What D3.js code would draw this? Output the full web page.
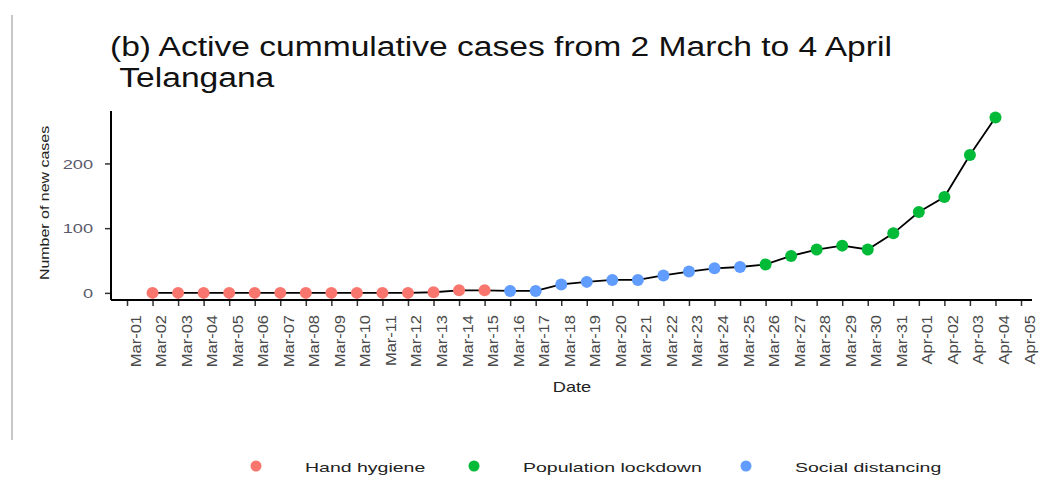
<!DOCTYPE html>
<html>
<head>
<meta charset="utf-8">
<script src="https://cdn.jsdelivr.net/npm/d3@7"></script>
<style>
  body { margin: 0; background: #fff; }
  text { font-family: "Liberation Sans", Arial, sans-serif; }
</style>
</head>
<body>
<script>
// Data
const dates = [
  "2020-03-02", "2020-03-03", "2020-03-04", "2020-03-05", "2020-03-06", "2020-03-07",
  "2020-03-08", "2020-03-09", "2020-03-10", "2020-03-11", "2020-03-12", "2020-03-13",
  "2020-03-14", "2020-03-15", "2020-03-16", "2020-03-17", "2020-03-18", "2020-03-19",
  "2020-03-20", "2020-03-21", "2020-03-22", "2020-03-23", "2020-03-24", "2020-03-25",
  "2020-03-26", "2020-03-27", "2020-03-28", "2020-03-29", "2020-03-30", "2020-03-31",
  "2020-04-01", "2020-04-02", "2020-04-03", "2020-04-04"
];
const cases = [
  0, 0, 0, 0, 0, 0, 0, 0, 0, 0, 0, 1,
  4, 4, 3, 3, 13, 17, 20, 20, 27, 33, 38, 40,
  44, 57, 67, 73, 67, 92, 125, 148, 213, 271
];
const phases = [
  "Hand hygiene", "Hand hygiene", "Hand hygiene", "Hand hygiene", "Hand hygiene", "Hand hygiene",
  "Hand hygiene", "Hand hygiene", "Hand hygiene", "Hand hygiene", "Hand hygiene", "Hand hygiene",
  "Hand hygiene", "Hand hygiene",
  "Social distancing", "Social distancing", "Social distancing", "Social distancing", "Social distancing",
  "Social distancing", "Social distancing", "Social distancing", "Social distancing", "Social distancing",
  "Population lockdown", "Population lockdown", "Population lockdown", "Population lockdown",
  "Population lockdown", "Population lockdown", "Population lockdown", "Population lockdown",
  "Population lockdown", "Population lockdown"
];
const legendKeys = ["Hand hygiene", "Population lockdown", "Social distancing"];
const legendColors = ["#F8766D", "#00BA38", "#619CFF"];
const yTicks = [0, 100, 200];
const xTickStart = "2020-03-01";
const xTickEnd = "2020-04-05";

const parse = d3.timeParse("%Y-%m-%d");
const data = dates.map((d, i) => ({ date: parse(d), value: cases[i], phase: phases[i] }));

const W = 1040, H = 478;
const plot = { left: 111, right: 1032, top: 111, bottom: 300 };

const svg = d3.select("body").append("svg")
  .attr("width", W)
  .attr("height", H);

// stray border line on the left of the picture
svg.append("line")
  .attr("x1", 12).attr("x2", 12)
  .attr("y1", 15).attr("y2", 440)
  .attr("stroke", "#c8c8c8")
  .attr("stroke-width", 2);

const x = d3.scaleTime()
  .domain([parse(xTickStart), parse(xTickEnd)])
  .range([127, 1021]);

const y = d3.scaleLinear()
  .domain([-11, 281])
  .range([plot.bottom, plot.top]);

const color = d3.scaleOrdinal().domain(legendKeys).range(legendColors);

// x axis
const xAxis = svg.append("g")
  .attr("transform", `translate(0,${plot.bottom})`)
  .call(d3.axisBottom(x)
    .tickValues(d3.timeDay.range(parse(xTickStart), d3.timeDay.offset(parse(xTickEnd), 1)))
    .tickFormat(d3.timeFormat("%b-%d"))
    .tickSizeOuter(0)
    .tickSize(6));
xAxis.select(".domain").remove();
xAxis.selectAll(".tick line").attr("stroke", "#333").attr("stroke-width", 1.5);
xAxis.selectAll(".tick text")
  .attr("x", 0).attr("y", 0).attr("dy", 0)
  .attr("text-anchor", "end")
  .attr("transform", "translate(13,15) rotate(-90) scale(1.18,1)")
  .style("font-size", "14px")
  .attr("fill", "#4a4a4a");

// y axis
const yAxis = svg.append("g")
  .attr("transform", `translate(${plot.left},0)`)
  .call(d3.axisLeft(y).tickValues(yTicks).tickSize(6));
yAxis.select(".domain").remove();
yAxis.selectAll(".tick line").attr("stroke", "#333").attr("stroke-width", 1.5);
yAxis.selectAll(".tick text")
  .attr("x", 0)
  .attr("dy", "0.36em")
  .attr("text-anchor", "end")
  .attr("transform", "translate(-18,0) scale(1.4,1)")
  .style("font-size", "13px")
  .attr("fill", "#5a5a6a");

// axis lines
svg.append("line")
  .attr("x1", plot.left).attr("x2", plot.left)
  .attr("y1", plot.top).attr("y2", plot.bottom)
  .attr("stroke", "#000").attr("stroke-width", 2);
svg.append("line")
  .attr("x1", plot.left).attr("x2", plot.right)
  .attr("y1", plot.bottom).attr("y2", plot.bottom)
  .attr("stroke", "#000").attr("stroke-width", 2);

// line + points
const line = d3.line().x(d => x(d.date)).y(d => y(d.value));
svg.append("path")
  .datum(data)
  .attr("d", line)
  .attr("fill", "none")
  .attr("stroke", "#000")
  .attr("stroke-width", 1.8);

svg.selectAll(".pt")
  .data(data)
  .enter()
  .append("circle")
  .attr("class", "pt")
  .attr("cx", d => x(d.date))
  .attr("cy", d => y(d.value))
  .attr("r", 6)
  .attr("fill", d => color(d.phase));

// titles
const title = svg.append("text")
  .attr("transform", "translate(110,0) scale(1.2,1) translate(-110,0)")
  .style("font-size", "28px")
  .attr("fill", "#111");
title.append("tspan").attr("x", 110).attr("y", 56)
  .text("(b) Active cummulative cases from 2 March to 4 April");
title.append("tspan").attr("x", 110).attr("y", 87)
  .text("\u00a0Telangana");

svg.append("text")
  .attr("transform", "translate(49,203) rotate(-90) scale(1.33,1)")
  .attr("text-anchor", "middle")
  .style("font-size", "12px")
  .attr("fill", "#222")
  .text("Number of new cases");

svg.append("text")
  .attr("transform", "translate(572,392) scale(1.3,1)")
  .attr("text-anchor", "middle")
  .style("font-size", "14px")
  .attr("fill", "#222")
  .text("Date");

// legend
const legendX = [256, 474, 746];
const lg = svg.selectAll(".lg")
  .data(legendKeys)
  .enter()
  .append("g")
  .attr("class", "lg")
  .attr("transform", (d, i) => `translate(${legendX[i]},466)`);
lg.append("circle")
  .attr("r", 5.5)
  .attr("fill", d => color(d));
lg.append("text")
  .attr("x", 0)
  .attr("y", 6)
  .attr("transform", "translate(49,0) scale(1.5,1)")
  .style("font-size", "13px")
  .attr("fill", "#222")
  .text(d => d);
</script>
</body>
</html>
